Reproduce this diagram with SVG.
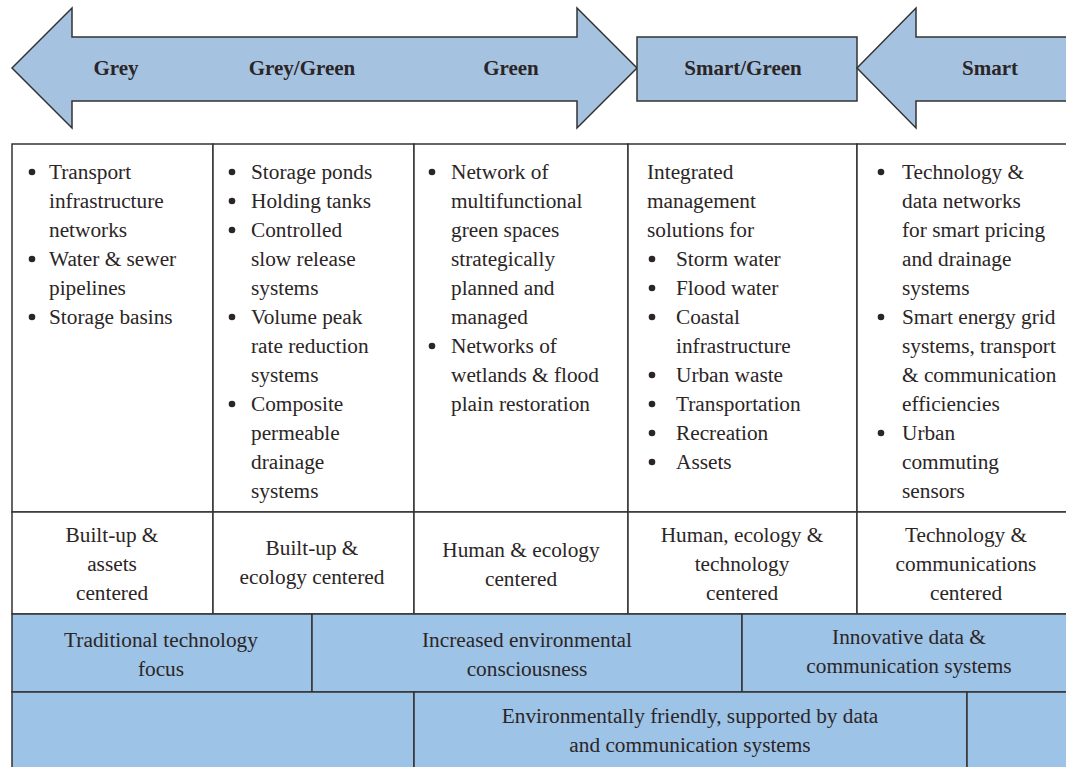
<svg xmlns="http://www.w3.org/2000/svg" width="1066" height="767" viewBox="0 0 1066 767">
<style>
.sh{fill:#a5c3e1;stroke:#333;stroke-width:1.5}
.cell{fill:#fff;stroke:#333;stroke-width:1.5}
.bc{fill:#9dc3e6;stroke:#333;stroke-width:1.5}
.hd{font-family:"Liberation Serif",serif;font-weight:bold;font-size:21px;fill:#2b2526;text-anchor:middle}
.t{font-family:"Liberation Serif",serif;font-size:21.3px;fill:#2b2526}
.c{font-family:"Liberation Serif",serif;font-size:21.3px;fill:#2b2526;text-anchor:middle}
.b{fill:#2b2526}
</style>
<defs><circle id="dot" r="3.3" class="b"/></defs>
<rect width="1066" height="767" fill="#fff"/>
<g id="header">
<g id="arrow-grey-green">
<polygon class="sh" points="12,68 72,8 72,37 577,37 577,8 637,68 577,128 577,101 72,101 72,128"/>
<text class="hd" x="116" y="75">Grey</text>
<text class="hd" x="302" y="75">Grey/Green</text>
<text class="hd" x="511" y="75">Green</text>
</g>
<g id="box-smart-green">
<rect class="sh" x="637" y="37" width="220" height="64"/>
<text class="hd" x="743" y="75">Smart/Green</text>
</g>
<g id="arrow-smart">
<polygon class="sh" points="857,68 916,8 916,37 1070,37 1070,101 916,101 916,128"/>
<text class="hd" x="990" y="75">Smart</text>
</g>
</g>
<g id="row-content">
<g id="c1">
<rect class="cell" x="12" y="144" width="201" height="368"/>
<use href="#dot" x="32" y="172"/><use href="#dot" x="32" y="259"/><use href="#dot" x="32" y="317"/>
<text class="t"><tspan x="49" y="179">Transport</tspan><tspan x="49" y="208">infrastructure</tspan><tspan x="49" y="237">networks</tspan><tspan x="49" y="266">Water &amp; sewer</tspan><tspan x="49" y="295">pipelines</tspan><tspan x="49" y="324">Storage basins</tspan></text>
</g>
<g id="c2">
<rect class="cell" x="213" y="144" width="201" height="368"/>
<use href="#dot" x="232" y="172"/><use href="#dot" x="232" y="201"/><use href="#dot" x="232" y="230"/><use href="#dot" x="232" y="317"/><use href="#dot" x="232" y="404"/>
<text class="t"><tspan x="251" y="179">Storage ponds</tspan><tspan x="251" y="208">Holding tanks</tspan><tspan x="251" y="237">Controlled</tspan><tspan x="251" y="266">slow release</tspan><tspan x="251" y="295">systems</tspan><tspan x="251" y="324">Volume peak</tspan><tspan x="251" y="353">rate reduction</tspan><tspan x="251" y="382">systems</tspan><tspan x="251" y="411">Composite</tspan><tspan x="251" y="440">permeable</tspan><tspan x="251" y="469">drainage</tspan><tspan x="251" y="498">systems</tspan></text>
</g>
<g id="c3">
<rect class="cell" x="414" y="144" width="214" height="368"/>
<use href="#dot" x="432" y="172"/><use href="#dot" x="432" y="346"/>
<text class="t"><tspan x="451" y="179">Network of</tspan><tspan x="451" y="208">multifunctional</tspan><tspan x="451" y="237">green spaces</tspan><tspan x="451" y="266">strategically</tspan><tspan x="451" y="295">planned and</tspan><tspan x="451" y="324">managed</tspan><tspan x="451" y="353">Networks of</tspan><tspan x="451" y="382">wetlands &amp; flood</tspan><tspan x="451" y="411">plain restoration</tspan></text>
</g>
<g id="c4">
<rect class="cell" x="628" y="144" width="229" height="368"/>
<use href="#dot" x="652" y="259"/><use href="#dot" x="652" y="288"/><use href="#dot" x="652" y="317"/><use href="#dot" x="652" y="375"/><use href="#dot" x="652" y="404"/><use href="#dot" x="652" y="433"/><use href="#dot" x="652" y="462"/>
<text class="t"><tspan x="647" y="179">Integrated</tspan><tspan x="647" y="208">management</tspan><tspan x="647" y="237">solutions for</tspan><tspan x="676" y="266">Storm water</tspan><tspan x="676" y="295">Flood water</tspan><tspan x="676" y="324">Coastal</tspan><tspan x="676" y="353">infrastructure</tspan><tspan x="676" y="382">Urban waste</tspan><tspan x="676" y="411">Transportation</tspan><tspan x="676" y="440">Recreation</tspan><tspan x="676" y="469">Assets</tspan></text>
</g>
<g id="c5">
<rect class="cell" x="857" y="144" width="215" height="368"/>
<use href="#dot" x="881" y="172"/><use href="#dot" x="881" y="317"/><use href="#dot" x="881" y="433"/>
<text class="t"><tspan x="902" y="179">Technology &amp;</tspan><tspan x="902" y="208">data networks</tspan><tspan x="902" y="237">for smart pricing</tspan><tspan x="902" y="266">and drainage</tspan><tspan x="902" y="295">systems</tspan><tspan x="902" y="324">Smart energy grid</tspan><tspan x="902" y="353">systems, transport</tspan><tspan x="902" y="382">&amp; communication</tspan><tspan x="902" y="411">efficiencies</tspan><tspan x="902" y="440">Urban</tspan><tspan x="902" y="469">commuting</tspan><tspan x="902" y="498">sensors</tspan></text>
</g>
</g>
<g id="row-focus">
<g id="f1"><rect class="cell" x="12" y="512" width="201" height="102"/>
<text class="c"><tspan x="112" y="542">Built-up &amp;</tspan><tspan x="112" y="571">assets</tspan><tspan x="112" y="600">centered</tspan></text></g>
<g id="f2"><rect class="cell" x="213" y="512" width="201" height="102"/>
<text class="c"><tspan x="312" y="555">Built-up &amp;</tspan><tspan x="312" y="584">ecology centered</tspan></text></g>
<g id="f3"><rect class="cell" x="414" y="512" width="214" height="102"/>
<text class="c"><tspan x="521" y="557">Human &amp; ecology</tspan><tspan x="521" y="586">centered</tspan></text></g>
<g id="f4"><rect class="cell" x="628" y="512" width="229" height="102"/>
<text class="c"><tspan x="742" y="542">Human, ecology &amp;</tspan><tspan x="742" y="571">technology</tspan><tspan x="742" y="600">centered</tspan></text></g>
<g id="f5"><rect class="cell" x="857" y="512" width="215" height="102"/>
<text class="c"><tspan x="966" y="542">Technology &amp;</tspan><tspan x="966" y="571">communications</tspan><tspan x="966" y="600">centered</tspan></text></g>
</g>
<g id="row-tech">
<g id="t1"><rect class="bc" x="12" y="614" width="300" height="78"/>
<text class="c"><tspan x="161" y="647">Traditional technology</tspan><tspan x="161" y="676">focus</tspan></text></g>
<g id="t2"><rect class="bc" x="312" y="614" width="430" height="78"/>
<text class="c"><tspan x="527" y="647">Increased environmental</tspan><tspan x="527" y="676">consciousness</tspan></text></g>
<g id="t3"><rect class="bc" x="742" y="614" width="330" height="78"/>
<text class="c"><tspan x="909" y="644">Innovative data &amp;</tspan><tspan x="909" y="673">communication systems</tspan></text></g>
</g>
<g id="row-env">
<g id="e1"><rect class="bc" x="12" y="692" width="402" height="80"/></g>
<g id="e2"><rect class="bc" x="414" y="692" width="553" height="80"/>
<text class="c"><tspan x="690" y="723">Environmentally friendly, supported by data</tspan><tspan x="690" y="752">and communication systems</tspan></text></g>
<g id="e3"><rect class="bc" x="967" y="692" width="105" height="80"/></g>
</g>
</svg>
